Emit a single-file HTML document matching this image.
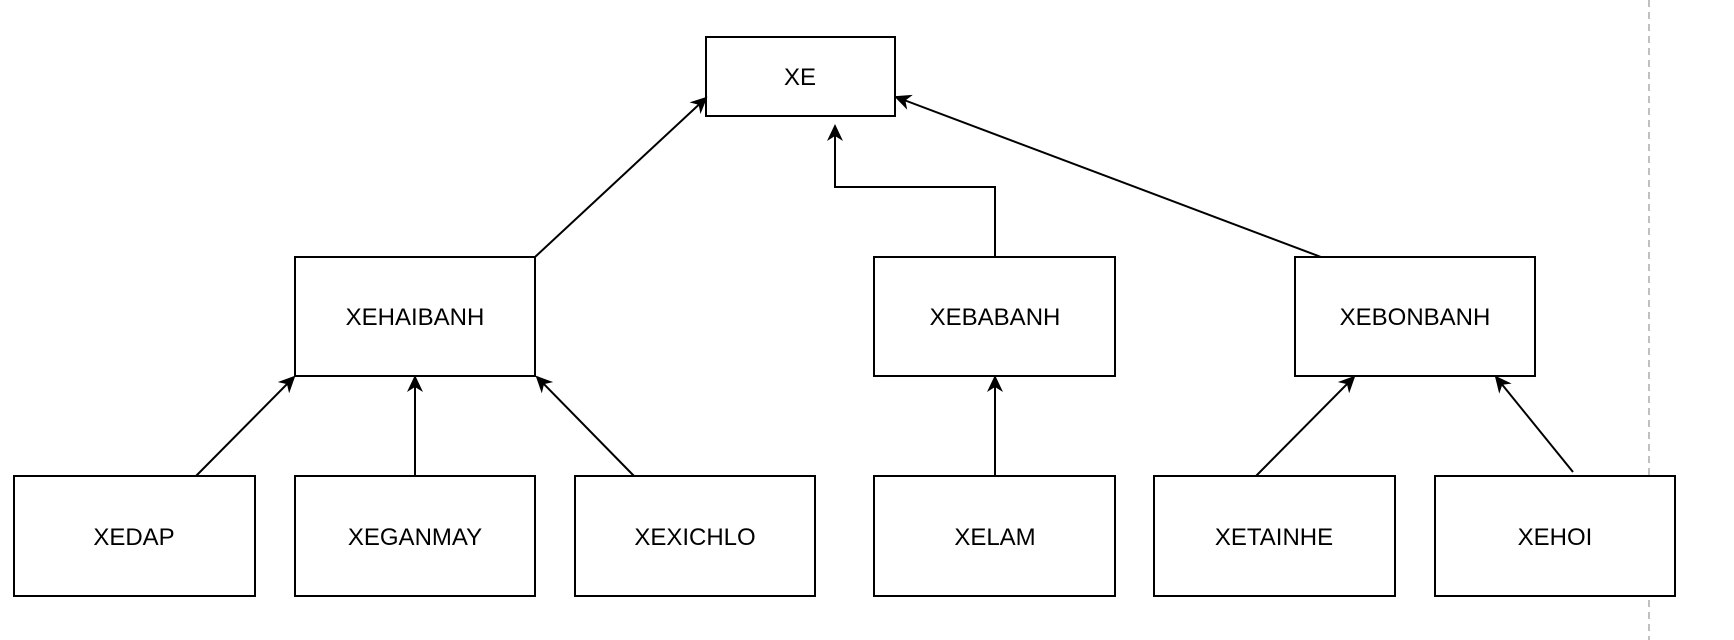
<!DOCTYPE html>
<html><head><meta charset="utf-8"><style>
html,body{margin:0;padding:0;background:#fff;}
svg{display:block;}
text{font-family:"Liberation Sans",Arial,sans-serif;font-size:24px;fill:#000;}
</style></head><body>
<svg width="1734" height="640" viewBox="0 0 1734 640" xmlns="http://www.w3.org/2000/svg">
<defs>
<marker id="a" markerWidth="18" markerHeight="16" refX="15" refY="8" orient="auto" markerUnits="userSpaceOnUse">
<path d="M0,0 L17,8 L0,16 L5,8 Z" fill="#000"/>
</marker>
</defs>
<line x1="1649" y1="0" x2="1649" y2="640" stroke="#c0c0c0" stroke-width="2" stroke-dasharray="7,5"/>
<g fill="#fff" stroke="#000" stroke-width="2">
<rect x="706" y="37" width="189" height="79"/>
<rect x="295" y="257" width="240" height="119"/>
<rect x="874" y="257" width="241" height="119"/>
<rect x="1295" y="257" width="240" height="119"/>
<rect x="14" y="476" width="241" height="120"/>
<rect x="295" y="476" width="240" height="120"/>
<rect x="575" y="476" width="240" height="120"/>
<rect x="874" y="476" width="241" height="120"/>
<rect x="1154" y="476" width="241" height="120"/>
<rect x="1435" y="476" width="240" height="120"/>
</g>
<g stroke="#000" stroke-width="2" fill="none" marker-end="url(#a)">
<line x1="535" y1="257" x2="706" y2="98"/>
<polyline points="995,257 995,187 835,187 835,126"/>
<line x1="1321" y1="257" x2="896" y2="97"/>
<line x1="196" y1="476" x2="294" y2="377"/>
<line x1="415" y1="476" x2="415" y2="377"/>
<line x1="634" y1="476" x2="537" y2="377"/>
<line x1="995" y1="476" x2="995" y2="377"/>
<line x1="1256" y1="476" x2="1354" y2="377"/>
<line x1="1573" y1="472" x2="1496" y2="377"/>
</g>
<g text-anchor="middle">
<text x="800" y="85">XE</text>
<text x="415" y="325">XEHAIBANH</text>
<text x="995" y="325">XEBABANH</text>
<text x="1415" y="325">XEBONBANH</text>
<text x="134" y="545">XEDAP</text>
<text x="415" y="545">XEGANMAY</text>
<text x="695" y="545">XEXICHLO</text>
<text x="995" y="545">XELAM</text>
<text x="1274" y="545">XETAINHE</text>
<text x="1555" y="545">XEHOI</text>
</g>
</svg>
</body></html>
